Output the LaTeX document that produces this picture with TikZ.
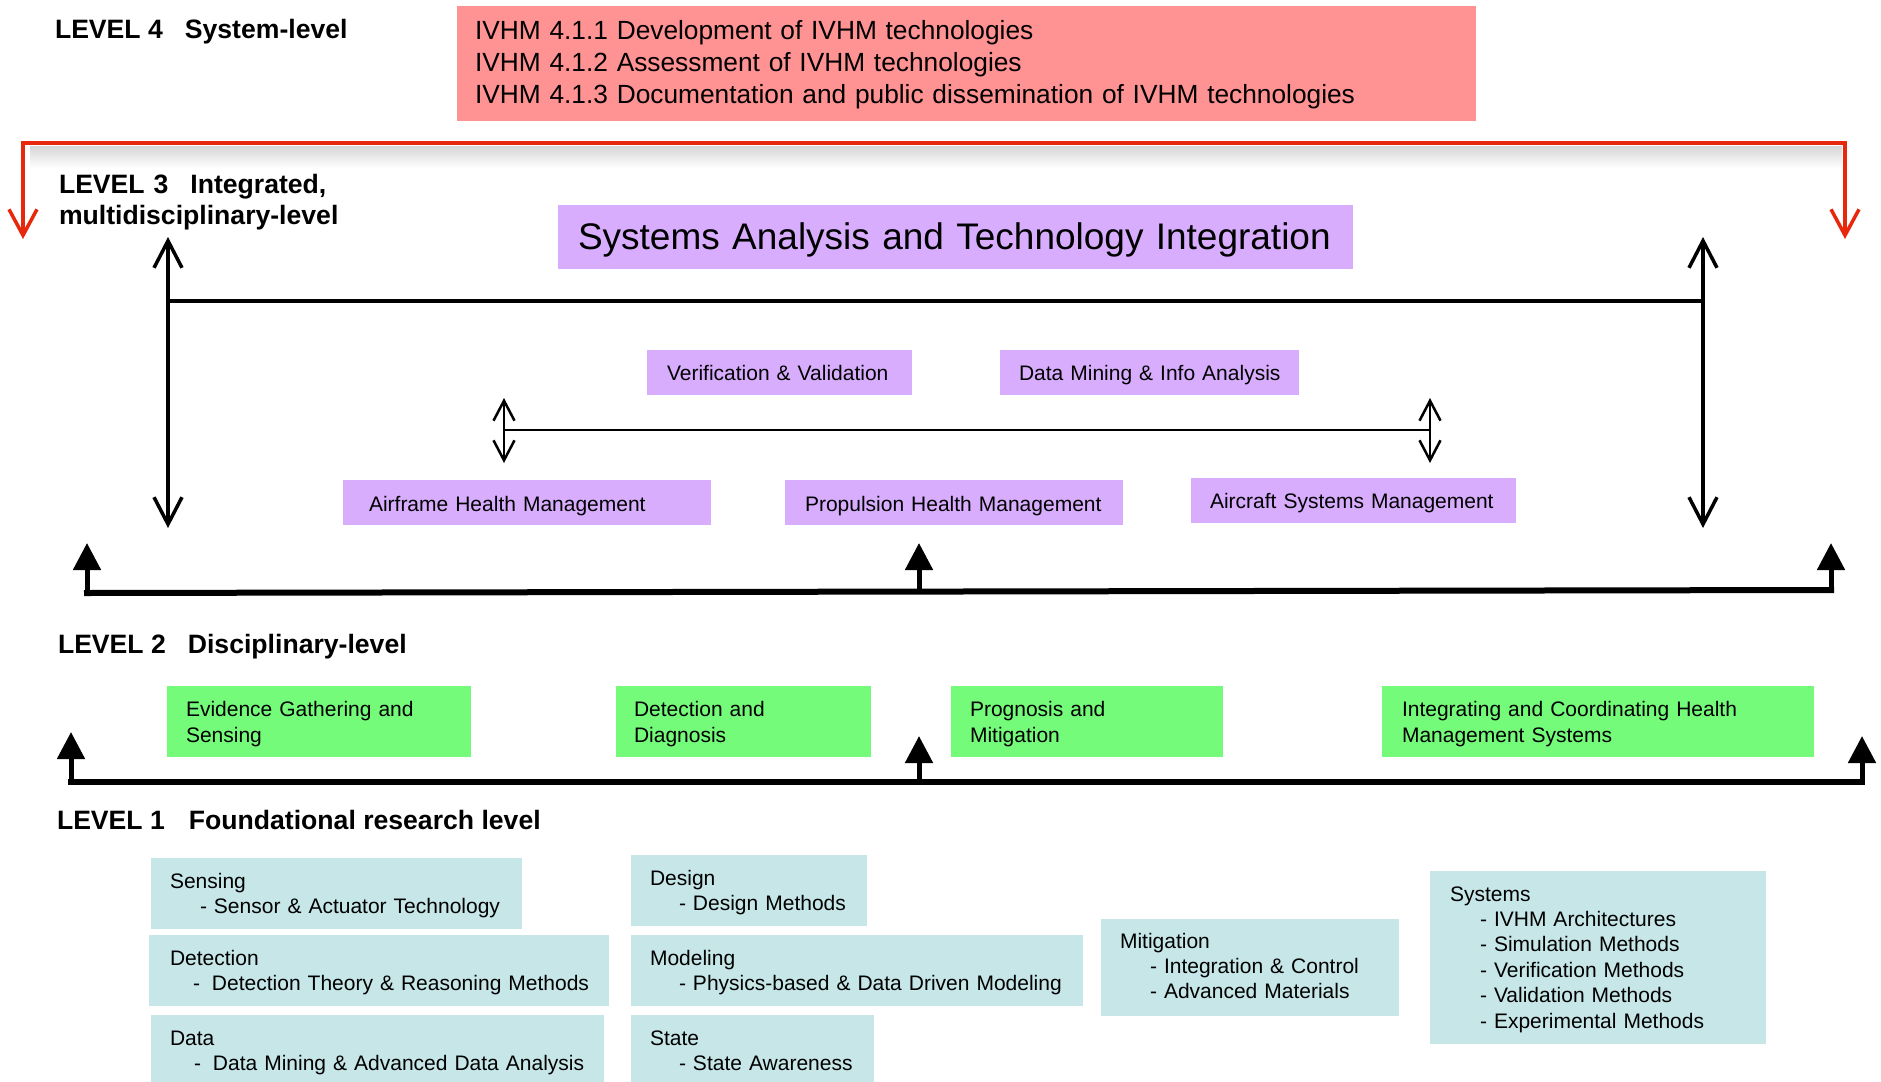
\documentclass[tikz,border=0pt]{standalone}
\usepackage{fontspec}
\setmainfont{Liberation Sans}
\usetikzlibrary{arrows.meta}
\definecolor{pinkbox}{RGB}{255,146,146}
\definecolor{lavbox}{RGB}{216,173,254}
\definecolor{greenbox}{RGB}{116,251,122}
\definecolor{bluebox}{RGB}{198,230,232}
\definecolor{redline}{RGB}{232,40,12}
\newcommand\fsz[2]{\fontsize{#1}{#2}\selectfont}
\tikzset{
  dims/.style n args={3}{text width=#1pt, text height=#2pt, text depth=#3pt},
  basebox/.style={anchor=north west, inner sep=0pt, outer sep=0pt, align=left},
  pinkstyle/.style={basebox, fill=pinkbox, font=\fsz{26.3}{32}},
  bigstyle/.style={basebox, fill=lavbox, font=\fsz{37}{44}},
  lavstyle/.style={basebox, fill=lavbox, font=\fsz{21}{25}},
  greenstyle/.style={basebox, fill=greenbox, font=\fsz{21}{26}},
  bluestyle/.style={basebox, fill=bluebox, font=\fsz{21}{25.4}},
  levellabel/.style={anchor=base west, inner sep=0pt, outer sep=0pt, align=left, font=\bfseries\fsz{26.6}{31}},
  redarrow/.style={draw=redline, line width=3.5pt,
    {Straight Barb[length=26pt,width=28pt]}-{Straight Barb[length=26pt,width=28pt]}},
  openarrow/.style={line width=3.5pt,
    {Straight Barb[length=27pt,width=28pt]}-{Straight Barb[length=27pt,width=28pt]}},
  smallarrow/.style={line width=2.5pt,
    {Straight Barb[length=20pt,width=21pt]}-{Straight Barb[length=20pt,width=21pt]}},
  thickarrow/.style={line width=5pt, -{Triangle[length=27pt,width=27pt]}},
  thickline/.style={line width=6pt, line cap=rect},
}
\begin{document}
\begin{tikzpicture}[x=1pt,y=-1pt]
\useasboundingbox (0,0) rectangle (1881,1081);

% shadow under the red line
\shade[top color=black!16, bottom color=white, draw=none] (30,146) rectangle (1842,168);

% level labels
\node[levellabel] (l4) at (55,38) {LEVEL 4\hspace{22pt}System-level};
\node[levellabel, text width=400pt] (l3) at (59,193) {LEVEL 3\hspace{22pt}Integrated,\\multidisciplinary-level};
\node[levellabel] (l2) at (58,653) {LEVEL 2\hspace{22pt}Disciplinary-level};
\node[levellabel] (l1) at (57,829) {LEVEL 1\hspace{24pt}Foundational research level};

% level 4 box
\node[pinkstyle, dims={1019}{34}{81}] (ivhm) at (457,6)
 {\hspace*{18pt}IVHM 4.1.1 Development of IVHM technologies\\
  \hspace*{18pt}IVHM 4.1.2 Assessment of IVHM technologies\\
  \hspace*{18pt}IVHM 4.1.3 Documentation and public dissemination of IVHM technologies};

% level 3 boxes
\node[bigstyle, dims={795}{44}{20}] (sati) at (558,205)
 {\hspace*{20pt}Systems Analysis and Technology Integration};
\node[lavstyle, dims={265}{30}{15}] (vv) at (647,350) {\hspace*{20pt}Verification \& Validation};
\node[lavstyle, dims={299}{30}{15}] (dmia) at (1000,350) {\hspace*{19pt}Data Mining \& Info Analysis};
\node[lavstyle, dims={368}{31}{14}] (afhm) at (343,480) {\hspace*{26pt}Airframe Health Management};
\node[lavstyle, dims={338}{31}{14}] (phm) at (785,480) {\hspace*{20pt}Propulsion Health Management};
\node[lavstyle, dims={325}{30}{15}] (asm) at (1191,478) {\hspace*{19pt}Aircraft Systems Management};

% level 2 boxes
\node[greenstyle, dims={304}{30}{41}] (egs) at (167,686)
 {\hspace*{19pt}Evidence Gathering and\\\hspace*{19pt}Sensing};
\node[greenstyle, dims={255}{30}{41}] (dd) at (616,686)
 {\hspace*{18pt}Detection and\\\hspace*{18pt}Diagnosis};
\node[greenstyle, dims={272}{30}{41}] (pm) at (951,686)
 {\hspace*{19pt}Prognosis and\\\hspace*{19pt}Mitigation};
\node[greenstyle, dims={432}{30}{41}] (ichms) at (1382,686)
 {\hspace*{20pt}Integrating and Coordinating Health\\\hspace*{20pt}Management Systems};

% level 1 boxes
\node[bluestyle, dims={371}{30}{41}] (bsens) at (151,858)
 {\hspace*{19pt}Sensing\\\hspace*{49pt}- Sensor \& Actuator Technology};
\node[bluestyle, dims={460}{30}{41}] (bdet) at (149,935)
 {\hspace*{21pt}Detection\\\hspace*{44pt}-\hspace{12pt}Detection Theory \& Reasoning Methods};
\node[bluestyle, dims={453}{30}{45}] (bdata) at (151,1015)
 {\hspace*{19pt}Data\\\hspace*{43pt}-\hspace{12pt}Data Mining \& Advanced Data Analysis};
\node[bluestyle, dims={236}{30}{41}] (bdes) at (631,855)
 {\hspace*{19pt}Design\\\hspace*{48pt}- Design Methods};
\node[bluestyle, dims={452}{30}{41}] (bmod) at (631,935)
 {\hspace*{19pt}Modeling\\\hspace*{48pt}- Physics-based \& Data Driven Modeling};
\node[bluestyle, dims={243}{30}{45}] (bstate) at (631,1015)
 {\hspace*{19pt}State\\\hspace*{48pt}- State Awareness};
\node[bluestyle, dims={298}{29}{68}] (bmit) at (1101,919)
 {\hspace*{19pt}Mitigation\\\hspace*{49pt}- Integration \& Control\\\hspace*{49pt}- Advanced Materials};
\node[bluestyle, dims={336}{30}{143}] (bsys) at (1430,871)
 {\hspace*{20pt}Systems\\\hspace*{50pt}- IVHM Architectures\\\hspace*{50pt}- Simulation Methods\\\hspace*{50pt}- Verification Methods\\\hspace*{50pt}- Validation Methods\\\hspace*{50pt}- Experimental Methods};

% red feedback connector from level 4
\coordinate (rL) at (23,239);
\coordinate (rLt) at (23,143);
\coordinate (rRt) at (1845,143);
\coordinate (rR) at (1845,239);
\draw[redarrow] (rL) -- (rLt) -- (rRt) -- (rR);

% level 3 outer bracket
\coordinate (bL1) at (168,237);
\coordinate (bL2) at (168,528);
\coordinate (bR1) at (1703,237);
\coordinate (bR2) at (1703,528);
\coordinate (bLm) at (168,301);
\coordinate (bRm) at (1703,301);
\draw[openarrow] (bL1) -- (bL2);
\draw[openarrow] (bR1) -- (bR2);
\draw[line width=3.5pt] (bLm) -- (bRm);

% level 3 inner bracket
\coordinate (sL1) at (504,398);
\coordinate (sL2) at (504,463);
\coordinate (sR1) at (1430,398);
\coordinate (sR2) at (1430,463);
\coordinate (sLm) at (504,430);
\coordinate (sRm) at (1430,430);
\draw[smallarrow] (sL1) -- (sL2);
\draw[smallarrow] (sR1) -- (sR2);
\draw[line width=2.5pt] (sLm) -- (sRm);

% level 2 -> level 3 arrows
\coordinate (u1) at (87,593);
\coordinate (u2) at (919,592);
\coordinate (u3) at (1831,590);
\coordinate (u1t) at (87,543);
\coordinate (u2t) at (919,543);
\coordinate (u3t) at (1831,543);
\draw[thickline] (u1) -- (u3);
\draw[thickarrow] (u1) -- (u1t);
\draw[thickarrow] (u2) -- (u2t);
\draw[thickarrow] (u3) -- (u3t);

% level 1 -> level 2 arrows
\coordinate (w1) at (71,782);
\coordinate (w2) at (919,782);
\coordinate (w3) at (1862,782);
\coordinate (w1t) at (71,732);
\coordinate (w2t) at (919,736);
\coordinate (w3t) at (1862,736);
\draw[thickline] (w1) -- (w3);
\draw[thickarrow] (w1) -- (w1t);
\draw[thickarrow] (w2) -- (w2t);
\draw[thickarrow] (w3) -- (w3t);
\end{tikzpicture}
\end{document}
